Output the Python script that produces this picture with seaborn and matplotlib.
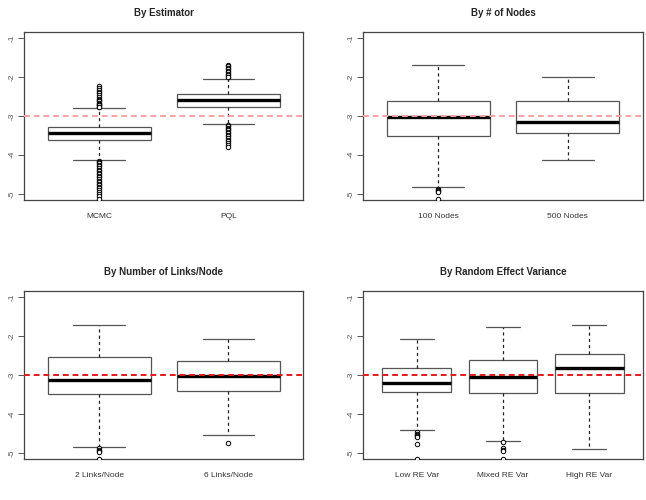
import matplotlib
matplotlib.use("Agg")
import matplotlib.pyplot as plt
import pandas as pd
import seaborn as sns

sns.set_style("white")
plt.rcParams['font.family'] = ['Liberation Sans', 'DejaVu Sans']

# panel titles
titles = ["By Estimator", "By # of Nodes", "By Number of Links/Node", "By Random Effect Variance"]

# five-number summaries per panel
labels = [["MCMC", "PQL"],
          ["100 Nodes", "500 Nodes"],
          ["2 Links/Node", "6 Links/Node"],
          ["Low RE Var", "Mixed RE Var", "High RE Var"]]
whis_lo = [[-4.14, -3.22], [-4.83, -4.13], [-4.84, -4.53], [-4.40, -4.70, -4.90]]
q1 = [[-3.63, -2.78], [-3.52, -3.44], [-3.48, -3.42], [-3.43, -3.46, -3.46]]
medians = [[-3.44, -2.59], [-3.04, -3.17], [-3.13, -3.02], [-3.21, -3.04, -2.83]]
q3 = [[-3.29, -2.45], [-2.62, -2.61], [-2.55, -2.63], [-2.81, -2.61, -2.47]]
whis_hi = [[-2.80, -2.06], [-1.70, -2.01], [-1.72, -2.09], [-2.08, -1.77, -1.72]]

# outliers per panel and group
fliers = [
    [[-2.24, -2.28, -2.33, -2.38, -2.42, -2.47, -2.52, -2.56, -2.6, -2.63, -2.66, -2.69, -2.71, -2.73, -2.76, -2.78,
      -4.16, -4.19, -4.22, -4.26, -4.3, -4.34, -4.38, -4.42, -4.46, -4.5, -4.54, -4.58, -4.62, -4.66, -4.7,
      -4.74, -4.78, -4.82, -4.86, -4.9, -4.95, -5.0, -5.05, -5.14],
     [-1.70, -1.73, -1.76, -1.8, -1.84, -1.88, -1.92, -1.96, -1.99, -2.01,
      -3.24, -3.27, -3.3, -3.33, -3.37, -3.41, -3.45, -3.49, -3.53, -3.57, -3.61, -3.65, -3.7, -3.75, -3.79]],
    [[-4.88, -4.91, -4.94, -4.96, -5.14], []],
    [[-4.88, -4.91, -4.94, -4.97, -5.14], [-4.73]],
    [[-4.47, -4.5, -4.53, -4.56, -4.6, -4.77, -5.14], [-4.71, -4.88, -4.92, -4.96, -5.14], []],
]

line_colors = ["#f4a3a3", "#f4a3a3", "#e31a1a", "#e31a1a"]

W, H = 646, 500
fig = plt.figure(figsize=(W / 100, H / 100), dpi=100)

# axes boxes in pixels: left, top, right, bottom
boxes = [(24.3, 31.7, 303.3, 200), (363.3, 31.7, 642.7, 200),
         (24.3, 290.7, 303.3, 459.3), (363.3, 290.7, 642.7, 459.3)]

for i, (l, t, r, b) in enumerate(boxes):
    ax = fig.add_axes([l / W, 1 - b / H, (r - l) / W, (b - t) / H])
    summ = pd.DataFrame({
        "group": [g for g in labels[i] for _ in range(5)],
        "value": [v for j in range(len(labels[i]))
                  for v in (whis_lo[i][j], q1[i][j], medians[i][j], q3[i][j], whis_hi[i][j])],
    })
    out = pd.DataFrame({
        "group": [g for j, g in enumerate(labels[i]) for _ in fliers[i][j]],
        "value": [v for j in range(len(labels[i])) for v in fliers[i][j]],
    })

    sns.boxplot(data=summ, x="group", y="value", order=labels[i], ax=ax,
                whis=(0, 100), width=0.8, color="white", linecolor="#555555",
                linewidth=0.9, showfliers=False,
                medianprops=dict(color="black", linewidth=2.4),
                whiskerprops=dict(color="#222222", linestyle=(0, (2.5, 2.5))),
                capprops=dict(color="#555555"))
    if len(out):
        sns.stripplot(data=out, x="group", y="value", order=labels[i], ax=ax,
                      jitter=False, color="white", edgecolor="black",
                      linewidth=0.7, size=3.2, zorder=3)

    ax.axhline(-3, color=line_colors[i], linewidth=1.4, linestyle=(0, (3, 2)), zorder=4)

    n = len(labels[i])
    ax.set_xlim(-0.5 - 0.04 * n, n - 0.5 + 0.04 * n)
    ax.set_ylim(-5.16, -0.84)
    ax.set_yticks([-1, -2, -3, -4, -5])
    ax.set_yticklabels(["-1", "-2", "-3", "-4", "-5"], rotation=90, va="center")
    ax.tick_params(axis="y", length=4, width=0.7, color="#555555", labelsize=6,
                   pad=2, labelcolor="#555555", left=True)
    ax.tick_params(axis="x", length=0, labelsize=6, pad=9, labelcolor="#333333")
    ax.set_xlabel("")
    ax.set_ylabel("")
    for sp in ax.spines.values():
        sp.set_color("#444444")
        sp.set_linewidth(0.9)
    ax.set_title(titles[i], fontsize=7, fontweight="bold", pad=11)

fig.savefig("out.png", dpi=100)
